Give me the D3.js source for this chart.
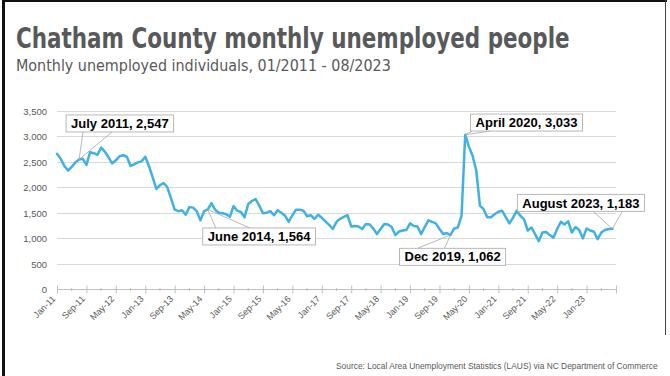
<!DOCTYPE html>
<html><head><meta charset="utf-8">
<script src="https://cdn.jsdelivr.net/npm/d3@7"></script>
<style>html,body{margin:0;padding:0;background:#fff;} svg{display:block}</style>
</head><body>
<svg id="c" width="670" height="376"></svg>
<script>
// Monthly unemployed people, Chatham County (Jan 2011 - Aug 2023)
const u2011 = [2660, 2560, 2420, 2330, 2400, 2490, 2547, 2560, 2440, 2690, 2670, 2640];
const u2012 = [2780, 2700, 2590, 2470, 2530, 2610, 2630, 2600, 2420, 2450, 2490, 2510];
const u2013 = [2600, 2420, 2200, 1970, 2040, 2085, 2000, 1780, 1560, 1530, 1550, 1460];
const u2014 = [1610, 1600, 1530, 1350, 1530, 1564, 1690, 1560, 1500, 1490, 1470, 1420];
const u2015 = [1630, 1540, 1515, 1410, 1670, 1730, 1770, 1640, 1490, 1500, 1530, 1450];
const u2016 = [1550, 1500, 1440, 1320, 1450, 1560, 1560, 1540, 1430, 1450, 1380, 1460];
const u2017 = [1400, 1330, 1260, 1180, 1320, 1380, 1420, 1450, 1230, 1240, 1230, 1180];
const u2018 = [1280, 1270, 1190, 1080, 1180, 1280, 1270, 1220, 1060, 1130, 1150, 1160];
const u2019 = [1290, 1240, 1230, 1080, 1220, 1350, 1320, 1290, 1180, 1080, 1100, 1062];
const u2020 = [1190, 1210, 1440, 3033, 2800, 2620, 2330, 1640, 1570, 1410, 1410, 1470];
const u2021 = [1520, 1540, 1420, 1290, 1400, 1540, 1440, 1370, 1150, 1210, 1080, 940];
const u2022 = [1110, 1120, 1060, 1010, 1180, 1320, 1270, 1330, 1110, 1220, 1160, 995];
const u2023 = [1190, 1150, 1125, 980, 1110, 1160, 1180, 1183];
const values = [].concat(u2011, u2012, u2013, u2014, u2015, u2016, u2017, u2018, u2019, u2020, u2021, u2022, u2023);

const tickLabels = ["Jan-11","Sep-11","May-12","Jan-13","Sep-13","May-14","Jan-15","Sep-15","May-16","Jan-17","Sep-17","May-18","Jan-19","Sep-19","May-20","Jan-21","Sep-21","May-22","Jan-23"];
const tickStep = 8;
const yTicks = [0, 500, 1000, 1500, 2000, 2500, 3000, 3500];

const annotIndex = [6, 41, 107, 111, 151];
const annotNames = ["July 2011", "June 2014", "Dec 2019", "April 2020", "August 2023"];

const titleText = "Chatham County monthly unemployed people";
const subtitleText = "Monthly unemployed individuals, 01/2011 - 08/2023";
const sourceText = "Source: Local Area Unemployment Statistics (LAUS) via NC Department of Commerce";

// layout (offsets of callout boxes relative to their data point)
const annotLayout = [
  {dx: -13, dy: -44.5, edge: "bottom", b1: 4, b2: 33},
  {dx: -5, dy: 18.5, edge: "top", b1: 8, b2: 42},
  {dx: -51, dy: 13.3, edge: "top", b1: -33, b2: -6},
  {dx: 5.4, dy: -20.7, edge: "bottom", b1: 7, b2: 25},
  {dx: -95, dy: -34.5, edge: "bottom", b1: -19, b2: 10}
];

const svg = d3.select("#c");
const gray = "#595959";
const narrow = "'Liberation Sans Narrow','DejaVu Sans Condensed','Arial Narrow',sans-serif";
const sans = "'Liberation Sans',Arial,sans-serif";

function fit(sel, w) {
  const l = sel.node().getComputedTextLength();
  const fs = parseFloat(sel.attr("font-size"));
  sel.attr("font-size", (fs * w / l).toFixed(2));
}
function squeeze(sel, x0, y0, w) {
  const l = sel.node().getComputedTextLength();
  sel.attr("x", 0).attr("y", 0).attr("transform", `translate(${x0},${y0}) scale(${(w / l).toFixed(4)},1)`);
}

// frame
svg.append("line").attr("x1", 3.5).attr("x2", 3.5).attr("y1", 0).attr("y2", 376).attr("stroke", "#111").attr("stroke-width", 3);
svg.append("line").attr("x1", 2).attr("x2", 667).attr("y1", 1).attr("y2", 1).attr("stroke", "#111").attr("stroke-width", 2);
svg.append("line").attr("x1", 665.5).attr("x2", 665.5).attr("y1", 0).attr("y2", 335).attr("stroke", "#444").attr("stroke-width", 1);

// titles
const t = svg.append("text").attr("font-family", narrow).attr("font-weight", "bold")
  .attr("font-size", 28.5).attr("fill", "#58595b").text(titleText);
squeeze(t, 16, 48, 554);
const st = svg.append("text").attr("font-family", narrow)
  .attr("font-size", 16).attr("fill", gray).text(subtitleText);
squeeze(st, 16, 70.5, 375);

// scales
const x = d3.scaleLinear().domain([0, 152]).range([57, 616]);
const y = d3.scaleLinear().domain([0, 3500]).range([289, 111]);

// gridlines
svg.append("g").selectAll("line").data(yTicks.filter(d => d > 0)).join("line")
  .attr("x1", x(0)).attr("x2", x(152))
  .attr("y1", d => Math.round(y(d)) + 0.5).attr("y2", d => Math.round(y(d)) + 0.5)
  .attr("stroke", "#d9d9d9").attr("stroke-width", 1);

// y axis
const ya = svg.append("g").attr("transform", `translate(${x(0)},0.5)`)
  .call(d3.axisLeft(y).tickValues(yTicks).tickSize(0).tickPadding(10).tickFormat(d3.format(",")));
ya.select(".domain").remove();
ya.selectAll("text").attr("font-family", sans).attr("font-size", 9.5).attr("fill", gray);

// x axis
const y0 = Math.round(y(0)) + 0.5;
const xa = svg.append("g").attr("transform", `translate(0,${y0})`);
xa.call(d3.axisBottom(x).tickValues(d3.range(0, 153, tickStep)).tickSize(4).tickFormat(""));
xa.select(".domain").attr("stroke", "#bfbfbf").attr("d", `M${x(0)},0H${x(152)}`);
xa.selectAll(".tick line").attr("stroke", "#bfbfbf").attr("y1", -4).attr("y2", 4);
xa.selectAll(".minor").data(d3.range(4, 152, tickStep)).join("line").attr("class", "minor")
  .attr("x1", d => x(d)).attr("x2", d => x(d)).attr("y1", -1.5).attr("y2", 1.5).attr("stroke", "#bfbfbf");
svg.append("g").selectAll("text").data(tickLabels).join("text")
  .attr("transform", (d, i) => `translate(${x(i * tickStep) - 3},${y0 + 8}) rotate(-45)`)
  .attr("text-anchor", "end").attr("dy", "0.32em")
  .attr("font-family", sans).attr("font-size", 9).attr("fill", gray).text(d => d);

// line
const line = d3.line().x((d, i) => x(i)).y(d => y(d));
svg.append("path").datum(values).attr("d", line).attr("fill", "none")
  .attr("stroke", "#3fb1e5").attr("stroke-width", 2.5).attr("stroke-linejoin", "round").attr("stroke-linecap", "round");

// callouts
const fmt = d3.format(",");
annotIndex.forEach((idx, k) => {
  const L = annotLayout[k];
  const px = x(idx), py = y(values[idx]);
  const g = svg.append("g");
  const txt = g.append("text").attr("font-family", sans).attr("font-weight", "bold").attr("font-size", 13)
    .attr("fill", "#000").text(`${annotNames[k]}, ${fmt(values[idx])}`);
  const w = txt.node().getComputedTextLength() + 10;
  const h = 17;
  const bx = px + L.dx, by = py + L.dy;
  const ey = L.edge === "bottom" ? by + h : by;
  g.insert("path", "text").attr("d", `M${px + L.b1},${ey}L${px},${py}L${px + L.b2},${ey}`)
    .attr("fill", "none").attr("stroke", "#a6a6a6").attr("stroke-width", 0.8);
  g.insert("rect", "text").attr("x", bx).attr("y", by).attr("width", w).attr("height", h)
    .attr("fill", "#fff").attr("stroke", "#a6a6a6").attr("stroke-width", 0.8);
  txt.attr("x", bx + 5).attr("y", by + h / 2).attr("dy", "0.36em");
});

// source
const src = svg.append("text").attr("font-family", sans).attr("font-size", 9.5).attr("fill", gray).text(sourceText);
squeeze(src, 336, 368.5, 322);
</script>
</body></html>
